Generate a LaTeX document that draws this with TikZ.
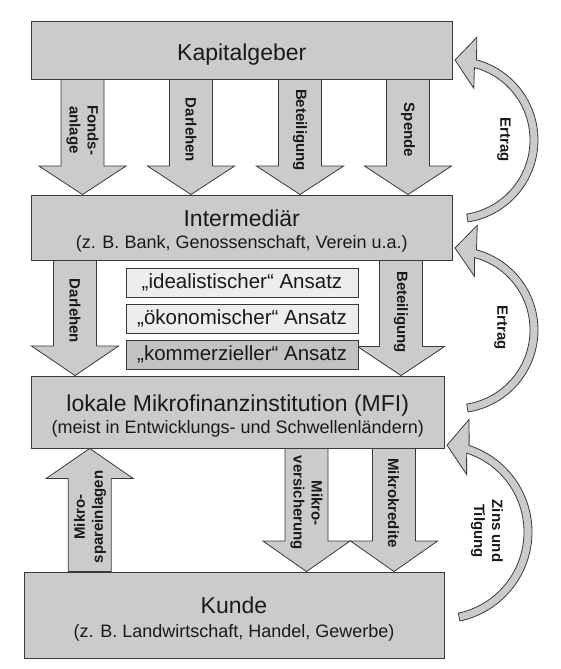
\documentclass[tikz,border=0pt]{standalone}
\usepackage{fontspec}
\setmainfont{Liberation Sans}
\usetikzlibrary{calc}
\definecolor{boxc}{HTML}{CBCBCB}
\definecolor{lightc}{HTML}{EDEDED}
\definecolor{darkc}{HTML}{C2C2C2}
\definecolor{bordc}{HTML}{3A3A3A}
\definecolor{txtc}{HTML}{1A1A1A}
% #1 x-coordinate name, #2 tail anchor, #3 tip anchor, #4 signed head length
\newcommand\blkarrow[4]{%
  \draw[arrowbody] (#3 -| #1) -- ++(-43.5,{-(#4)}) -- ++(22,0)
    -- ($(#2 -| #1)+(-21.5,0)$) -- ($(#2 -| #1)+(21.5,0)$)
    -- ($(#3 -| #1)+(21.5,{-(#4)})$) -- ++(22,0) -- cycle;}
% #1 cx, #2 cy, #3 r outer, #4 r inner, #5 tail angle, #6 base angle, #7 outer wing, #8 tip, #9 inner wing
\newcommand\bentarrow[9]{%
  \draw[arrowbody] plot[variable=\t, domain=#5:#6, samples=60] ({#1+#3*cos(\t)},{#2+#3*sin(\t)})
    -- ($(#1,#2)+(#7)$) -- ($(#1,#2)+(#8)$) -- ($(#1,#2)+(#9)$)
    -- plot[variable=\t, domain=#6:#5, samples=60] ({#1+#4*cos(\t)},{#2+#4*sin(\t)}) -- cycle;}
\tikzset{
  boxstyle/.style={draw=bordc, fill=boxc, line width=0.9pt, inner sep=0pt},
  apbox/.style={draw=bordc, line width=0.9pt, inner sep=0pt, minimum width=232pt, minimum height=29pt,
    text=txtc, font=\fontsize{20.5}{22}\selectfont},
  arrowbody/.style={draw=bordc, fill=boxc, line width=0.8pt, line join=miter},
  titlef/.style={text=txtc, inner sep=0pt, font=\fontsize{23}{26}\selectfont},
  subf/.style={text=txtc, inner sep=0pt, font=\fontsize{18}{20}\selectfont},
  lbl/.style={text=txtc, inner sep=0pt, align=center, font=\fontsize{15}{18}\selectfont\bfseries},
}
\begin{document}
\begin{tikzpicture}[x=1pt,y=-1pt]
\useasboundingbox (0,0) rectangle (560,669);
% boxes
\node[boxstyle, minimum width=420.5pt, minimum height=58pt] (kap) at (241.75,50) {};
\node[boxstyle, minimum width=420.5pt, minimum height=65pt] (inter) at (241.75,227.5) {};
\node[boxstyle, minimum width=412.5pt, minimum height=72pt] (mfi) at (237.75,412) {};
\node[boxstyle, minimum width=420pt, minimum height=86pt] (kunde) at (234,615) {};
% box texts
\node[titlef, anchor=base] (tkap) at (241.75,60) {Kapitalgeber};
\node[titlef, anchor=base] (tint) at (241.75,226) {Intermediär};
\node[subf, anchor=base] (sint) at (241.75,248) {(z. B. Bank, Genossenschaft, Verein u.a.)};
\node[titlef, anchor=base] (tmfi) at (237.75,411) {lokale Mikrofinanzinstitution (MFI)};
\node[subf, anchor=base] (smfi) at (237.75,433) {(meist in Entwicklungs- und Schwellenländern)};
\node[titlef, anchor=base] (tkun) at (234,613) {Kunde};
\node[subf, anchor=base] (skun) at (234,637) {(z. B. Landwirtschaft, Handel, Gewerbe)};
% x positions of the block arrows
\coordinate (xa1) at (82.5,0);
\coordinate (xa2) at (191,0);
\coordinate (xa3) at (300,0);
\coordinate (xa4) at (408,0);
\coordinate (xb1) at (75,0);
\coordinate (xb2) at (401,0);
\coordinate (xc1) at (89.7,0);
\coordinate (xc2) at (306.5,0);
\coordinate (xc3) at (394,0);
% block arrows
\blkarrow{xa1}{kap.south}{inter.north}{28.5}
\blkarrow{xa2}{kap.south}{inter.north}{28.5}
\blkarrow{xa3}{kap.south}{inter.north}{28.5}
\blkarrow{xa4}{kap.south}{inter.north}{28.5}
\blkarrow{xb1}{inter.south}{mfi.north}{29.5}
\blkarrow{xb2}{inter.south}{mfi.north}{29}
\blkarrow{xc1}{kunde.north}{mfi.south}{-30}
\blkarrow{xc2}{mfi.south}{kunde.north}{30.5}
\blkarrow{xc3}{mfi.south}{kunde.north}{30.5}
% approaches
\node[apbox, fill=lightc] (ap1) at (242,282.5) {„idealistischer“ Ansatz};
\node[apbox, fill=lightc] (ap2) at (242,318.5) {„ökonomischer“ Ansatz};
\node[apbox, fill=darkc] (ap3) at (242,354.5) {„kommerzieller“ Ansatz};
% curved arrows
\bentarrow{455}{140}{83}{75}{81}{-75}{-78:105}{-90:80}{-70:55}
\bentarrow{455}{330}{83}{75}{81}{-75}{-78:107}{-90:82}{-70:57}
\bentarrow{441}{532}{91}{83}{78}{-72}{-76:116}{-86:87}{-66:63}
% arrow labels
\node[lbl, rotate=-90] (l1) at (82.5,130) {Fonds-\\anlage};
\node[lbl, rotate=-90] (l2) at (191,130) {Darlehen};
\node[lbl, rotate=-90] (l3) at (300,130) {Beteiligung};
\node[lbl, rotate=-90] (l4) at (408,130) {Spende};
\node[lbl, rotate=-90] (l5) at (75,311) {Darlehen};
\node[lbl, rotate=-90] (l6) at (401,312) {Beteiligung};
\node[lbl, rotate=90] (l7) at (90,517) {Mikro-\\spareinlagen};
\node[lbl, rotate=-90] (l8) at (306.5,503) {Mikro-\\versicherung};
\node[lbl, rotate=-90] (l9) at (393.5,503) {Mikrokredite};
\node[lbl, rotate=-90] (e1) at (504,140) {Ertrag};
\node[lbl, rotate=-90] (e2) at (501,328) {Ertrag};
\node[lbl, rotate=-90] (e3) at (487,531) {Zins und\\Tilgung};
\end{tikzpicture}
\end{document}
